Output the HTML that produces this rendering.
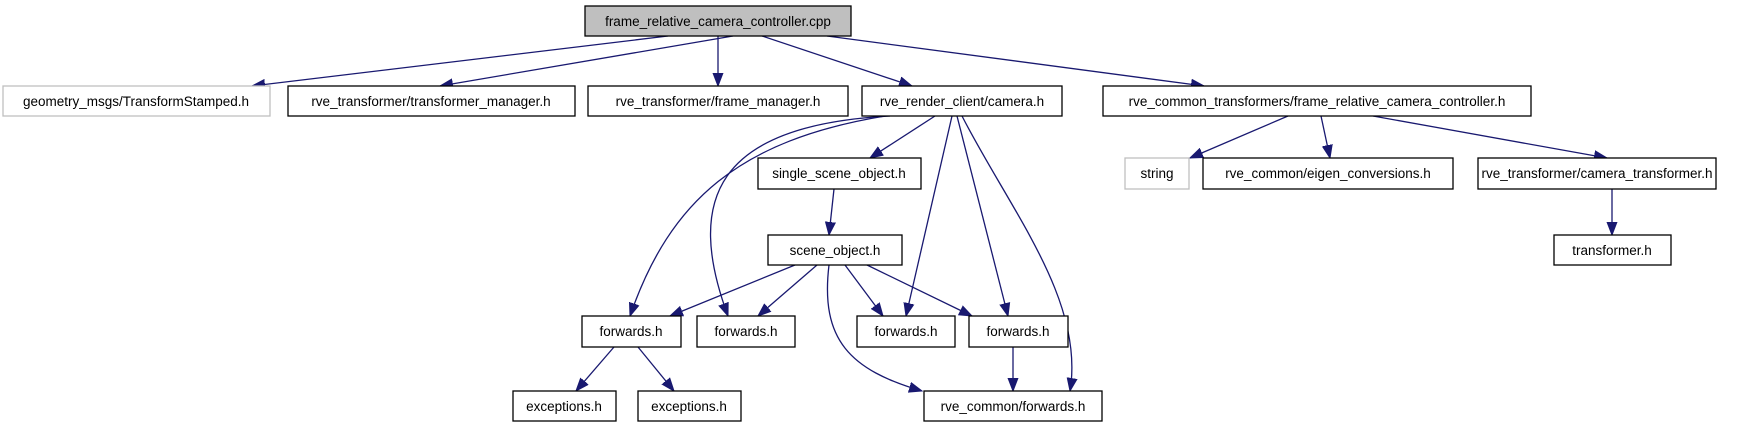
<!DOCTYPE html>
<html><head><meta charset="utf-8"><style>
html,body{margin:0;padding:0;background:#fff;}
svg{display:block;}
text{font-family:"Liberation Sans",sans-serif;font-size:13.5px;fill:#000;text-anchor:middle;}
.b{fill:#fff;stroke:#000;stroke-width:1.3;}
.g{fill:#fff;stroke:#bfbfbf;stroke-width:1.3;}
.e{fill:none;stroke:#191970;stroke-width:1.3;}
</style></head><body>
<svg width="1756" height="427" viewBox="0 0 1756 427">
<defs>
<marker id="a" markerUnits="userSpaceOnUse" markerWidth="14" markerHeight="12" refX="13" refY="6" orient="auto">
<path d="M0,1 L13,6 L0,11 Z" fill="#191970" stroke="#191970"/>
</marker>
</defs>
<g class="e" marker-end="url(#a)">
<path d="M668,36 L252,86"/>
<path d="M733,36 L440,86"/>
<path d="M718,36 L718,86"/>
<path d="M762,36 L912,86"/>
<path d="M827,36 L1204,86"/>
<path d="M885,116 C740,140 670,200 630,316"/>
<path d="M890,116 C715,125 685,200 728,316"/>
<path d="M935,116 L870,158"/>
<path d="M952,116 L906,316"/>
<path d="M957,116 L1008,316"/>
<path d="M962,116 C1010,210 1085,300 1070,391"/>
<path d="M834,189 L829,235"/>
<path d="M795,265 L670,316"/>
<path d="M817,265 L758,316"/>
<path d="M845,265 L883,316"/>
<path d="M867,265 L972,316"/>
<path d="M829,265 C820,340 850,370 922,391"/>
<path d="M1013,347 L1013,391"/>
<path d="M614,347 L576,391"/>
<path d="M638,347 L674,391"/>
<path d="M1288,116 L1190,158"/>
<path d="M1321,116 L1330,158"/>
<path d="M1373,116 L1607,158"/>
<path d="M1612,189 L1612,235"/>
</g>
<rect x="585" y="6" width="266" height="30" fill="#bfbfbf" stroke="#000" stroke-width="1.3"/>
<text x="718" y="26">frame_relative_camera_controller.cpp</text>

<rect class="g" x="3" y="86" width="267" height="30"/><text x="136" y="106">geometry_msgs/TransformStamped.h</text>
<rect class="b" x="288" y="86" width="287" height="30"/><text x="431" y="106">rve_transformer/transformer_manager.h</text>
<rect class="b" x="588" y="86" width="260" height="30"/><text x="718" y="106">rve_transformer/frame_manager.h</text>
<rect class="b" x="862" y="86" width="200" height="30"/><text x="962" y="106">rve_render_client/camera.h</text>
<rect class="b" x="1103" y="86" width="428" height="30"/><text x="1317" y="106">rve_common_transformers/frame_relative_camera_controller.h</text>

<rect class="b" x="758" y="158" width="163" height="31"/><text x="839" y="178">single_scene_object.h</text>
<rect class="g" x="1125" y="158" width="64" height="31"/><text x="1157" y="178">string</text>
<rect class="b" x="1203" y="158" width="250" height="31"/><text x="1328" y="178">rve_common/eigen_conversions.h</text>
<rect class="b" x="1478" y="158" width="238" height="31"/><text x="1597" y="178">rve_transformer/camera_transformer.h</text>

<rect class="b" x="768" y="235" width="134" height="30"/><text x="835" y="255">scene_object.h</text>
<rect class="b" x="1554" y="235" width="117" height="30"/><text x="1612" y="255">transformer.h</text>

<rect class="b" x="582" y="316" width="99" height="31"/><text x="631" y="336">forwards.h</text>
<rect class="b" x="697" y="316" width="98" height="31"/><text x="746" y="336">forwards.h</text>
<rect class="b" x="857" y="316" width="98" height="31"/><text x="906" y="336">forwards.h</text>
<rect class="b" x="969" y="316" width="99" height="31"/><text x="1018" y="336">forwards.h</text>

<rect class="b" x="513" y="391" width="103" height="30"/><text x="564" y="411">exceptions.h</text>
<rect class="b" x="638" y="391" width="103" height="30"/><text x="689" y="411">exceptions.h</text>
<rect class="b" x="924" y="391" width="178" height="30"/><text x="1013" y="411">rve_common/forwards.h</text>
</svg>
</body></html>
